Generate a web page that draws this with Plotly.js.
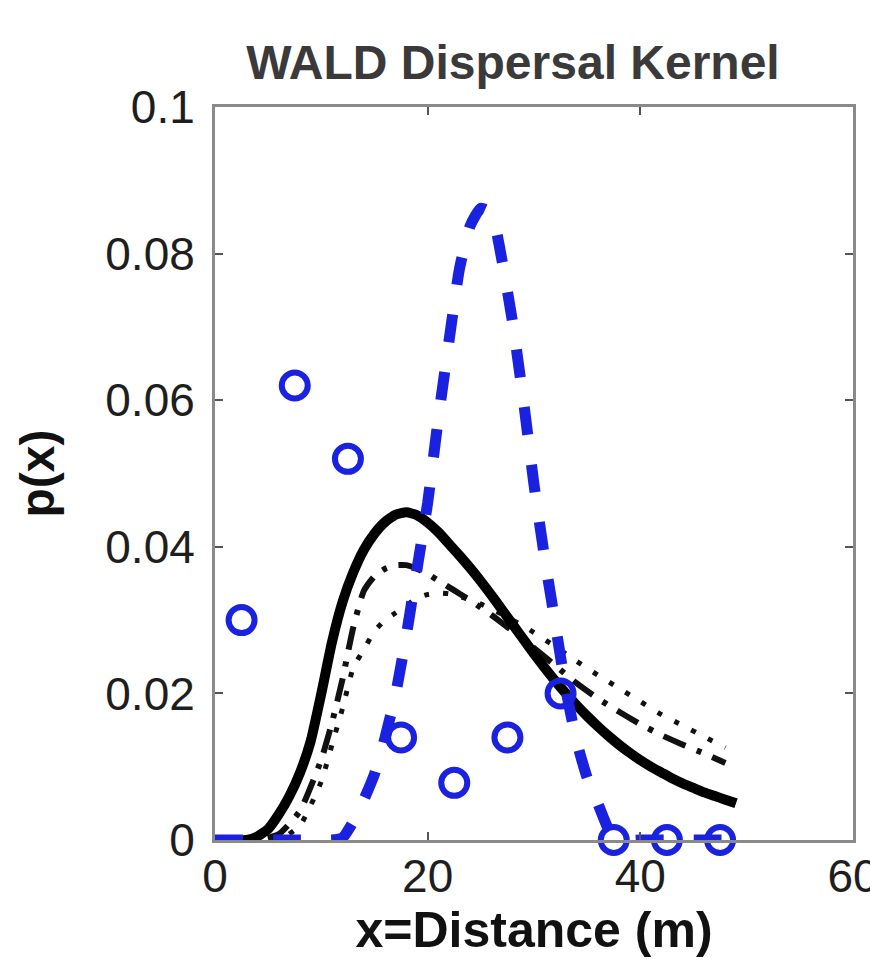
<!DOCTYPE html>
<html>
<head>
<meta charset="utf-8">
<script src="https://cdn.plot.ly/plotly-3.0.1.min.js"></script>
<style>
  html, body { margin: 0; padding: 0; background: #ffffff; }
  #chart { width: 870px; height: 970px; }
</style>
</head>
<body>
<div id="chart"></div>
<script>
// Observed data (bin centres, m) and observed frequencies
const obsX = [2.5, 7.5, 12.5, 17.5, 22.5, 27.5, 32.5, 37.5, 42.5, 47.5];
const obsY = [0.030, 0.062, 0.052, 0.014, 0.0078, 0.014, 0.020, 0, 0, 0];

// Blue dashed kernel
const blueX = [0, 2, 4, 6, 8, 10, 11, 12, 13, 14, 15, 16, 17, 18, 19, 20, 21, 22, 23, 24, 25, 26, 27, 28, 29, 30, 31, 32, 33, 34, 35, 36, 37, 38, 40, 42, 44, 46, 48];
const blueY = [0, 0, 0, 0, 0, 0, 0, 0.0003, 0.0025, 0.0055, 0.009, 0.014, 0.020, 0.028, 0.037, 0.046, 0.0575, 0.068, 0.078, 0.0838, 0.0862, 0.0855, 0.079, 0.0705, 0.060, 0.0485, 0.0385, 0.0295, 0.0205, 0.0135, 0.0085, 0.005, 0.0015, 0, 0, 0, 0, 0, 0];

// Black solid kernel
const solidX = [0, 3, 4, 5, 6, 7, 8, 9, 10, 11, 12, 13, 14, 15, 16, 17, 18, 19, 20, 21, 22, 23, 24, 25, 26, 27, 28, 29, 30, 31, 32, 33, 34, 35, 36, 37, 38, 39, 40, 41, 42, 43, 44, 45, 46, 47, 48, 49];
const solidY = [0, 0, 0.0005, 0.0015, 0.0035, 0.006, 0.0092, 0.0135, 0.020, 0.027, 0.0325, 0.0365, 0.0396, 0.0418, 0.0434, 0.0444, 0.0447, 0.0443, 0.0433, 0.042, 0.0404, 0.0388, 0.0371, 0.0353, 0.0334, 0.0314, 0.0294, 0.0274, 0.0254, 0.0235, 0.0217, 0.0200, 0.0184, 0.0169, 0.0155, 0.0142, 0.0130, 0.0119, 0.0109, 0.0100, 0.0092, 0.0084, 0.0077, 0.0071, 0.0065, 0.0060, 0.0055, 0.0050];

// Black dash-dot kernel
const dashdotX = [0, 4, 6, 8, 10, 11, 12, 13, 14, 15, 16, 17, 18, 19, 20, 21, 22, 23, 24, 25, 26, 27, 28, 29, 30, 32, 34, 36, 38, 40, 42, 44, 46, 48];
const dashdotY = [0, 0, 0.0008, 0.004, 0.011, 0.016, 0.022, 0.029, 0.034, 0.036, 0.037, 0.0375, 0.0375, 0.037, 0.0363, 0.0354, 0.0345, 0.0336, 0.0327, 0.0317, 0.0307, 0.0296, 0.0285, 0.0274, 0.0262, 0.0238, 0.0214, 0.0193, 0.0175, 0.0158, 0.0143, 0.013, 0.0118, 0.0105];

// Black dotted kernel
const dottedX = [0, 6, 8, 10, 11, 12, 13, 14, 15, 16, 17, 18, 19, 20, 21, 22, 23, 24, 25, 26, 27, 28, 29, 30, 32, 34, 36, 38, 40, 42, 44, 46, 48];
const dottedY = [0, 0, 0.002, 0.008, 0.013, 0.018, 0.0235, 0.026, 0.0285, 0.030, 0.031, 0.032, 0.033, 0.0335, 0.0337, 0.0336, 0.0332, 0.0328, 0.0322, 0.0315, 0.0308, 0.030, 0.0292, 0.0283, 0.0264, 0.0244, 0.0225, 0.0207, 0.0189, 0.0171, 0.0156, 0.0141, 0.0126];

const xTicks = [0, 20, 40, 60];
const yTicks = [0, 0.02, 0.04, 0.06, 0.08, 0.1];

const BLUE = '#1a22e0';
const FONT = 'Liberation Sans, Arial, Helvetica, sans-serif';

const traces = [
  { x: dottedX, y: dottedY, mode: 'lines', cliponaxis: false,
    line: { color: '#111', width: 5, dash: '5px,14px', shape: 'spline', smoothing: 0.5 } },
  { x: dashdotX, y: dashdotY, mode: 'lines', cliponaxis: false,
    line: { color: '#111', width: 6, dash: '24px,12px,5px,12px', shape: 'spline', smoothing: 0.5 } },
  { x: solidX, y: solidY, mode: 'lines', cliponaxis: false,
    line: { color: '#000', width: 10, shape: 'spline', smoothing: 0.5 } },
  { x: blueX, y: blueY, mode: 'lines', cliponaxis: false,
    line: { color: BLUE, width: 11, dash: '28px,30px', shape: 'spline', smoothing: 0.5 } },
  { x: obsX, y: obsY, mode: 'markers', cliponaxis: false,
    marker: { symbol: 'circle-open', size: 26, color: BLUE, line: { color: BLUE, width: 6 } } }
];

const axisCommon = {
  showgrid: false, zeroline: false, showline: true, linecolor: '#8a8a8a', linewidth: 3,
  mirror: 'ticks', ticks: 'inside', ticklen: 8, tickwidth: 2, tickcolor: '#555',
  tickfont: { family: FONT, size: 46, color: '#1e1e1e' }
};

const layout = {
  width: 870, height: 970,
  margin: { l: 215, r: 17, t: 107, b: 130 },
  paper_bgcolor: '#ffffff', plot_bgcolor: '#ffffff',
  showlegend: false,
  title: { text: '<b>WALD Dispersal Kernel</b>', font: { family: FONT, size: 48, color: '#3a3a3a' },
           xref: 'paper', x: 0.467, xanchor: 'center', yref: 'container', y: 0.936, yanchor: 'middle' },
  xaxis: Object.assign({}, axisCommon, {
    range: [0, 60], tickmode: 'array', tickvals: xTicks, ticktext: xTicks.map(String),
    ticklabeloverflow: 'allow', ticklabelstandoff: -6,
    title: { text: '<b>x=Distance (m)</b>', font: { family: FONT, size: 50, color: '#111' }, standoff: 8 }
  }),
  yaxis: Object.assign({}, axisCommon, {
    range: [0, 0.1], tickmode: 'array', tickvals: yTicks, ticktext: yTicks.map(String),
    ticklabelstandoff: 8,
    title: { text: '<b>p(x)</b>', font: { family: FONT, size: 48, color: '#111' }, standoff: 36 }
  })
};

Plotly.newPlot('chart', traces, layout, { staticPlot: true, displayModeBar: false });
</script>
</body>
</html>
